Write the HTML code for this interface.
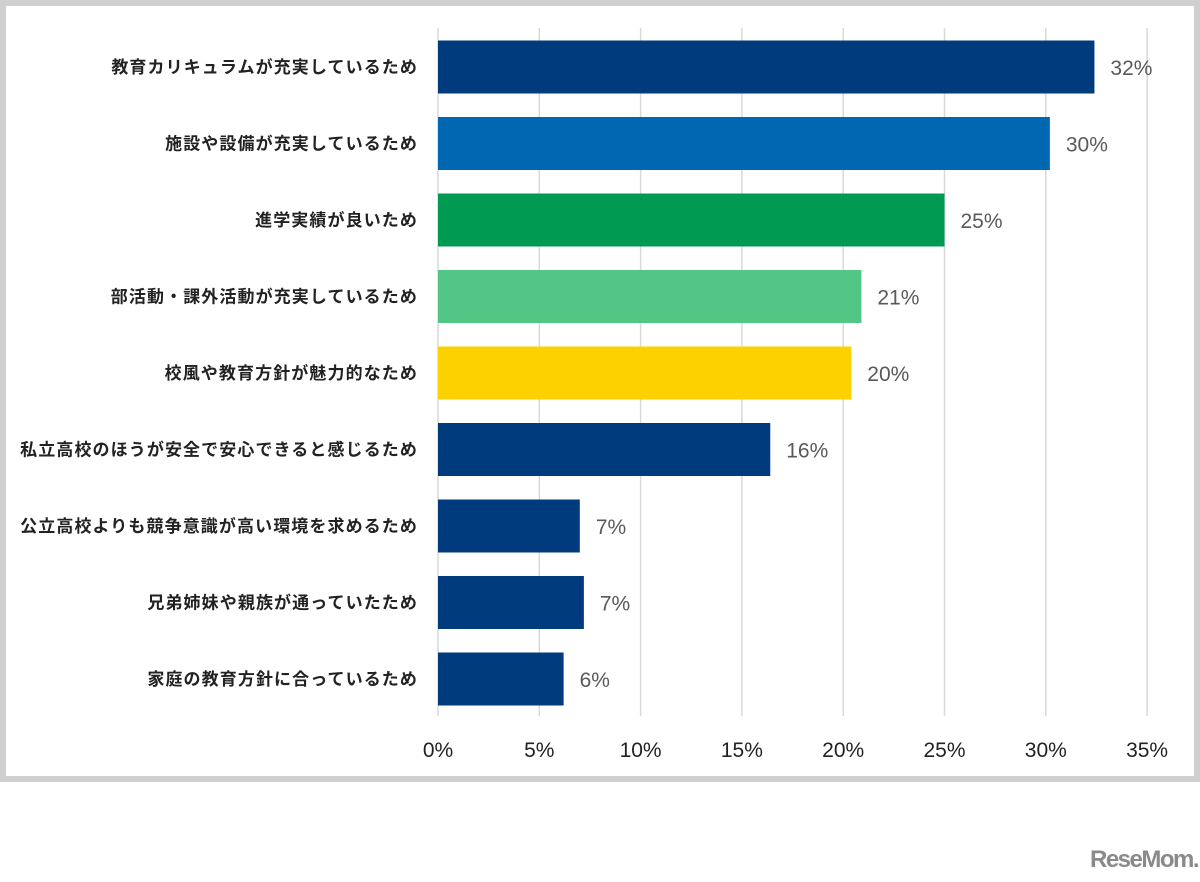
<!DOCTYPE html>
<html><head><meta charset="utf-8"><style>
html,body{margin:0;padding:0;background:#fff;}
body{width:1200px;height:882px;position:relative;overflow:hidden;font-family:"Liberation Sans","Noto Sans CJK JP",sans-serif;}
#frame{position:absolute;left:0;top:0;width:1188px;height:770px;border:6px solid #cfcfcf;background:#fff;}
#logo{position:absolute;left:1090px;top:846px;font:bold 24px "Liberation Sans",sans-serif;color:#8a8a8a;letter-spacing:-1.5px;}
</style></head><body>
<div id="frame"></div>
<svg id="chart" width="1200" height="882" style="position:absolute;left:0;top:0"></svg>
<div id="logo">ReseMom.</div>
<script>
const categories=["教育カリキュラムが充実しているため","施設や設備が充実しているため","進学実績が良いため","部活動・課外活動が充実しているため","校風や教育方針が魅力的なため","私立高校のほうが安全で安心できると感じるため","公立高校よりも競争意識が高い環境を求めるため","兄弟姉妹や親族が通っていたため","家庭の教育方針に合っているため"];
const values=[32.4,30.2,25.0,20.9,20.4,16.4,7.0,7.2,6.2];
const valueLabels=["32%","30%","25%","21%","20%","16%","7%","7%","6%"];
const colors=["#003b7e","#0068b3","#009a52","#52c785","#fdd000","#003b7e","#003b7e","#003b7e","#003b7e"];
const ticks=[0,5,10,15,20,25,30,35];
const NS="http://www.w3.org/2000/svg";
const svg=document.getElementById('chart');
const x0=438,pxPer=20.26;
const xs=v=>x0+v*pxPer;
const yc=i=>67+i*76.5;
function mk(t,a){const e=document.createElementNS(NS,t);for(const k in a)e.setAttribute(k,a[k]);svg.appendChild(e);return e;}
ticks.forEach(t=>{
 const l=mk('line',{x1:xs(t),x2:xs(t),y1:28,y2:716,stroke:'#d9d9d9','stroke-width':1.5});
 
 
 const tx=mk('text',{x:xs(t),y:757,'text-anchor':'middle','font-size':21,fill:'#222'});
 tx.textContent=t+'%';
 
 
});
categories.forEach((c,i)=>{
 const r=mk('rect',{x:x0,y:yc(i)-26.5,width:values[i]*pxPer,height:53,fill:colors[i]});
 
 
 const lb=mk('text',{x:418,y:yc(i)+6,'text-anchor':'end','font-size':17,'letter-spacing':1.1,'font-weight':'bold',fill:'#222','font-family':'"Liberation Sans","Noto Sans CJK JP",sans-serif'});
 lb.textContent=c;
 
 
 const vl=mk('text',{x:xs(values[i])+16,y:yc(i)+8,'font-size':21,fill:'#595959'});
 vl.textContent=valueLabels[i];
 
 
});
</script>
</body></html>
